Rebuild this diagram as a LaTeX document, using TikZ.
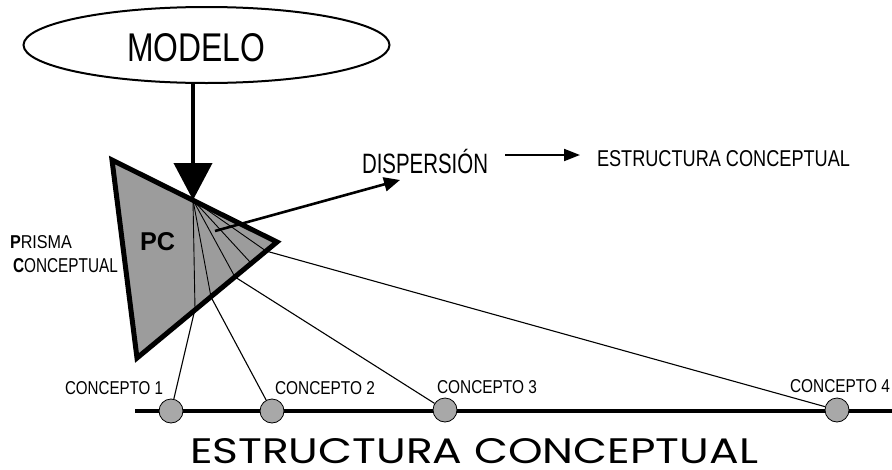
\documentclass[tikz,border=0pt]{standalone}
\usepackage{graphicx}
\usepackage{fontspec}
\setmainfont{Liberation Sans}
\newfontfamily\geo{Poppins}
\usetikzlibrary{shapes.geometric,arrows.meta}
\definecolor{prismgray}{HTML}{9C9C9C}
\definecolor{dotgray}{HTML}{A8A8A8}
\begin{document}
\begin{tikzpicture}[x=1pt,y=-1pt,
  txt/.style={inner sep=0pt, outer sep=0pt, anchor=base west},
  ray/.style={line width=0.9pt},
  link/.style={line width=1.1pt},
  concept/.style={circle, draw, line width=0.8pt, fill=dotgray, minimum size=24pt, inner sep=0pt},
  bigarrow/.style={line width=4pt, -{Triangle[length=37pt,width=38pt]}},
  midarrow/.style={line width=2.6pt, -{Triangle[length=16pt,width=14pt]}},
  smallarrow/.style={line width=2pt, -{Triangle[length=16pt,width=12pt]}}]
\useasboundingbox (0,0) rectangle (892,469);

% model ellipse
\node[ellipse, draw, line width=2pt, minimum width=366pt, minimum height=76pt, inner sep=0pt] (modelo) at (206.5,45) {};
\node[txt] (modelotxt) at (127,61) {\resizebox{138pt}{28pt}{MODELO}};

% prism
\coordinate (pa) at (112,160);
\coordinate (pb) at (277,242);
\coordinate (pc) at (137,358);
\coordinate (tip) at (193,200);
\coordinate (e1) at (195,309);
\coordinate (e2) at (211,297);
\coordinate (e3) at (235,277);
\coordinate (e4) at (266,251);
\coordinate (e5) at (250,262);
\coordinate (e6) at (246,226);
\fill[prismgray] (pa) -- (pb) -- (pc) -- cycle;
\draw[ray] (tip) -- (e1);
\draw[ray] (tip) -- (e2);
\draw[ray] (tip) -- (e3);
\draw[ray] (tip) -- (e4);
\draw[ray] (tip) -- (e5);
\draw[ray] (tip) -- (e6);
\draw[line width=5pt, line join=miter] (pa) -- (pb) -- (pc) -- cycle;

\node[txt] (pclbl) at (140,250) {\resizebox{35pt}{18pt}{\bfseries PC}};
\node[txt] (prisma) at (10,248) {\resizebox{62pt}{13pt}{\textbf{P}RISMA}};
\node[txt] (concep) at (13,272) {\resizebox{105pt}{14pt}{\textbf{C}ONCEPTUAL}};

% arrow model -> prism
\draw[bigarrow] (modelo.south -| tip) -- (tip);

% dispersion
\coordinate (dstart) at (215,231);
\coordinate (dend) at (400,180);
\draw[midarrow] (dstart) -- (dend);
\node[txt] (disp) at (362,173) {\scalebox{0.73}[1]{\fontsize{28}{28}\selectfont DISPERSIÓN}};
\node[txt] (estsmall) at (597,166) {\resizebox{253pt}{16pt}{ESTRUCTURA CONCEPTUAL}};
\coordinate (a1) at (505,155);
\coordinate (a2) at (580,155);
\draw[smallarrow] (a1) -- (a2);

% conceptual structure line
\coordinate (lineL) at (135,411);
\coordinate (lineR) at (892,411);
\draw[line width=4pt] (lineL) -- (lineR);
\node[concept] (c1) at (171,411) {};
\node[concept] (c2) at (272,411) {};
\node[concept] (c3) at (445,410) {};
\node[concept] (c4) at (837,410) {};
\draw[link] (e1) -- (c1);
\draw[link] (e2) -- (c2);
\draw[link] (e3) -- (c3);
\draw[link] (e4) -- (c4);

\node[txt] (l1) at (65,394) {\resizebox{98pt}{13pt}{CONCEPTO 1}};
\node[txt] (l2) at (275,394) {\resizebox{100pt}{13pt}{CONCEPTO 2}};
\node[txt] (l3) at (437,393) {\resizebox{100pt}{13pt}{CONCEPTO 3}};
\node[txt] (l4) at (790,392) {\resizebox{100pt}{13pt}{CONCEPTO 4}};

\node[txt] (title) at (190,463) {\resizebox{568pt}{25pt}{\geo ESTRUCTURA CONCEPTUAL}};
\end{tikzpicture}
\end{document}
